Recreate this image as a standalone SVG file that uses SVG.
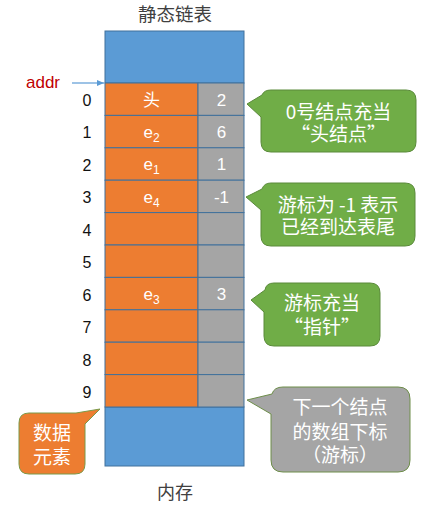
<svg xmlns="http://www.w3.org/2000/svg" width="430" height="505" viewBox="0 0 430 505">
<style>
.cjk{font-family:"Noto Sans CJK SC","Noto Sans",sans-serif}
.lat{font-family:"Liberation Sans","Noto Sans",sans-serif}
.idx{font-family:"Liberation Sans",sans-serif;font-size:16px;fill:#111;text-anchor:middle}
.cell{fill:#fff;text-anchor:middle;font-size:17px}
.blue{fill:#5B9BD5;stroke:#41719C;stroke-width:1}
.orange{fill:#ED7D31;stroke:#41719C;stroke-width:1}
.gray{fill:#A5A5A5;stroke:#41719C;stroke-width:1}
.cg{fill:#70AD47;stroke:#5A8A3A;stroke-width:1}
.ct{fill:#fff;font-size:19px;text-anchor:middle}
</style>
<defs>
<marker id="ah" markerWidth="8" markerHeight="8" refX="7" refY="4" orient="auto" markerUnits="userSpaceOnUse">
<path d="M0,1 L7,4 L0,7 Z" fill="#5B9BD5"/>
</marker>
</defs>
<text class="cjk" x="175" y="21" font-size="18.5" fill="#404040" text-anchor="middle">静态链表</text>
<g id="memory">
<rect class="blue" x="105" y="31" width="139" height="52"/>
<rect class="blue" x="105" y="407" width="139" height="59"/>
<g id="rows">
<rect class="orange" x="105" y="83" width="93" height="32.4"/><rect class="gray" x="198" y="83" width="46" height="32.4"/>
<rect class="orange" x="105" y="115.4" width="93" height="32.4"/><rect class="gray" x="198" y="115.4" width="46" height="32.4"/>
<rect class="orange" x="105" y="147.8" width="93" height="32.4"/><rect class="gray" x="198" y="147.8" width="46" height="32.4"/>
<rect class="orange" x="105" y="180.2" width="93" height="32.4"/><rect class="gray" x="198" y="180.2" width="46" height="32.4"/>
<rect class="orange" x="105" y="212.6" width="93" height="32.4"/><rect class="gray" x="198" y="212.6" width="46" height="32.4"/>
<rect class="orange" x="105" y="245" width="93" height="32.4"/><rect class="gray" x="198" y="245" width="46" height="32.4"/>
<rect class="orange" x="105" y="277.4" width="93" height="32.4"/><rect class="gray" x="198" y="277.4" width="46" height="32.4"/>
<rect class="orange" x="105" y="309.8" width="93" height="32.4"/><rect class="gray" x="198" y="309.8" width="46" height="32.4"/>
<rect class="orange" x="105" y="342.2" width="93" height="32.4"/><rect class="gray" x="198" y="342.2" width="46" height="32.4"/>
<rect class="orange" x="105" y="374.6" width="93" height="32.4"/><rect class="gray" x="198" y="374.6" width="46" height="32.4"/>
</g>
<g id="cells">
<text class="cell cjk" x="151.5" y="105.5">头</text><text class="cell lat" x="221.5" y="105.5">2</text>
<text class="cell lat" x="151.5" y="137.5">e<tspan font-size="12" dy="4">2</tspan></text><text class="cell lat" x="221.5" y="137.5">6</text>
<text class="cell lat" x="151.5" y="170">e<tspan font-size="12" dy="4">1</tspan></text><text class="cell lat" x="221.5" y="170">1</text>
<text class="cell lat" x="151.5" y="202.5">e<tspan font-size="12" dy="4">4</tspan></text><text class="cell lat" x="221.5" y="202.5">-1</text>
<text class="cell lat" x="151.5" y="299.5">e<tspan font-size="12" dy="4">3</tspan></text><text class="cell lat" x="221.5" y="299.5">3</text>
</g>
<g id="indices">
<text class="idx" x="87" y="106">0</text>
<text class="idx" x="87" y="138">1</text>
<text class="idx" x="87" y="171">2</text>
<text class="idx" x="87" y="203">3</text>
<text class="idx" x="87" y="236">4</text>
<text class="idx" x="87" y="268">5</text>
<text class="idx" x="87" y="301">6</text>
<text class="idx" x="87" y="333">7</text>
<text class="idx" x="87" y="366">8</text>
<text class="idx" x="87" y="398">9</text>
</g>
</g>
<text class="cjk" x="175" y="499" font-size="18" fill="#404040" text-anchor="middle">内存</text>
<g id="addr">
<text class="lat" x="26" y="88" font-size="17" fill="#C00000">addr</text>
</g>
<g id="connectors">
<line x1="72" y1="83" x2="104" y2="83" stroke="#5B9BD5" stroke-width="1.2" marker-end="url(#ah)"/>
</g>
<g id="callout-head">
<path class="cg" d="M271,90 H406 Q416,90 416,100 V142 Q416,152 406,152 H271 Q261,152 261,142 V117 L247,104 L262,95 Q264,90 271,90 Z"/>
<text class="ct cjk" x="338.5" y="119">0号结点充当<tspan x="338.5" dy="22">“头结点”</tspan></text>
</g>
<g id="callout-tail">
<path class="cg" d="M271,183 H405 Q415,183 415,193 V236 Q415,246 405,246 H271 Q261,246 261,236 V210 L246,197 L262,189 Q264,183 271,183 Z"/>
<text class="ct cjk" x="338" y="212">游标为 -1 表示<tspan x="338" dy="22">已经到达表尾</tspan></text>
</g>
<g id="callout-pointer">
<path class="cg" d="M274,283 H370 Q380,283 380,293 V336 Q380,346 370,346 H274 Q264,346 264,336 V312 L251,300 L265,290 Q266,283 274,283 Z"/>
<text class="ct cjk" x="322" y="310">游标充当<tspan x="322" dy="24">“指针”</tspan></text>
</g>
<g id="callout-cursor">
<path fill="#A5A5A5" stroke="#6E8E4A" stroke-width="1" d="M283,387 H398 Q410,387 410,399 V460 Q410,472 398,472 H283 Q271,472 271,460 V414 L247,400 L272,394 Q274,387 283,387 Z"/>
<text class="ct cjk" x="340" y="414">下一个结点<tspan x="340" dy="25">的数组下标</tspan><tspan x="340" dy="23">（游标）</tspan></text>
</g>
<g id="callout-data">
<path fill="#ED7D31" stroke="#7A9A4A" stroke-width="1" d="M29,413 H76 L100,409 L85,424 V464 Q85,474 75,474 H29 Q19,474 19,464 V423 Q19,413 29,413 Z"/>
<text class="ct cjk" x="52" y="440">数据<tspan x="52" dy="24">元素</tspan></text>
</g>
</svg>
